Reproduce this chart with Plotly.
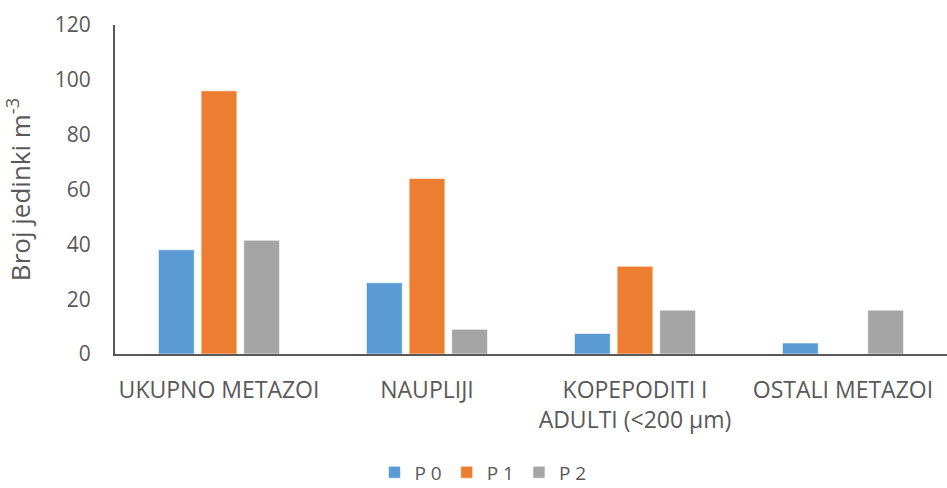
import plotly.graph_objects as go

categories = ["UKUPNO METAZOI", "NAUPLIJI", "KOPEPODITI I<br>ADULTI (<200 µm)", "OSTALI METAZOI"]
series_names = ["P 0", "P 1", "P 2"]
p0 = [38, 26, 7.5, 4]
p1 = [96, 64, 32, 0]
p2 = [41.5, 9, 16, 16]
colors = ["#5B9BD5", "#ED7D31", "#A5A5A5"]
y_ticks = [0, 20, 40, 60, 80, 100, 120]

font_family = "Open Sans, sans-serif"
text_gray = "#595959"

fig = go.Figure()
for name, vals, col in zip(series_names, [p0, p1, p2], colors):
    fig.add_trace(go.Bar(
        x=categories, y=vals, name=name,
        marker=dict(color=col, line=dict(color="rgba(255,255,255,0.6)", width=1)),
    ))

fig.update_layout(
    width=947, height=488,
    margin=dict(l=115, r=0, t=25, b=134),
    paper_bgcolor="white", plot_bgcolor="white",
    barmode="group", bargap=0.385, bargroupgap=0.16,
    font=dict(family=font_family, color=text_gray),
    showlegend=True,
    legend=dict(orientation="h", x=0.51, xref="container", xanchor="center",
                y=0.032, yref="container", yanchor="middle",
                font=dict(size=19, color=text_gray), itemwidth=30,
                traceorder="normal"),
    xaxis=dict(showline=True, linecolor="#595959", linewidth=2,
               tickfont=dict(size=23, color=text_gray), ticks="", showgrid=False,
               ticklabelstandoff=14),
    yaxis=dict(range=[0, 120], tickvals=y_ticks, showgrid=False, zeroline=False,
               showline=True, linecolor="#595959", linewidth=2,
               tickfont=dict(size=21, color=text_gray), ticklabelstandoff=18,
               title=dict(text="Broj jedinki m<sup>-3</sup>", font=dict(size=26, color=text_gray),
                          standoff=20)),
)

fig.write_html("out.html")
